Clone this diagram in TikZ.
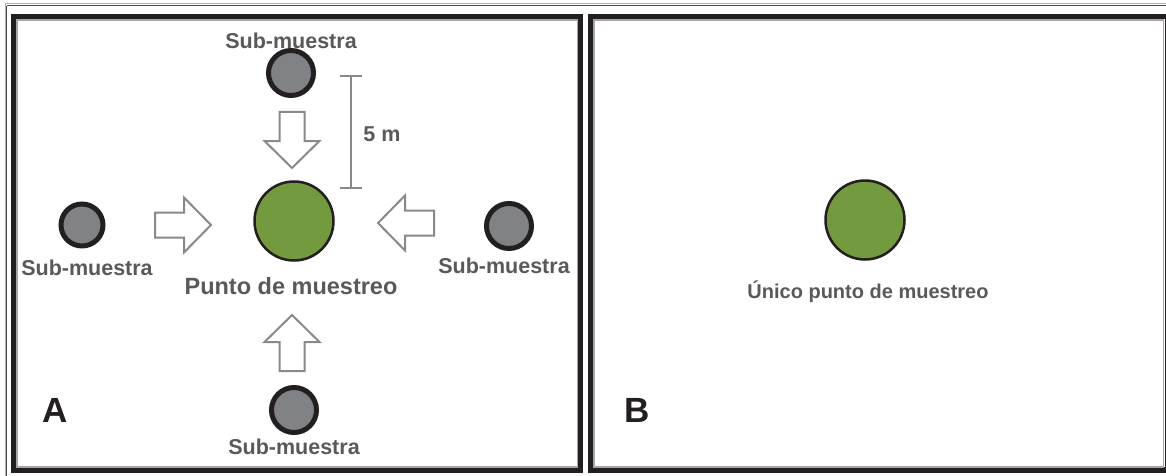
\documentclass[tikz,border=0pt]{standalone}
\usepackage{fontspec}
\setmainfont{Liberation Sans}
\definecolor{txtgray}{HTML}{58595B}
\definecolor{subgray}{HTML}{808285}
\definecolor{ptgreen}{HTML}{739A3E}
\definecolor{framek}{HTML}{231F20}
\definecolor{arrgray}{HTML}{88898B}
\tikzset{
  subcirc/.style={circle, draw=framek, line width=5pt, fill=subgray, minimum size=45pt, inner sep=0},
  greencirc/.style={circle, draw=framek, line width=2.5pt, fill=ptgreen, minimum size=79pt, inner sep=0},
  lbl/.style={text=txtgray, font=\bfseries\fontsize{21.5}{24}\selectfont, inner sep=0},
  biglbl/.style={text=txtgray, font=\bfseries\fontsize{23.5}{27}\selectfont, inner sep=0},
  panellbl/.style={text=framek, font=\bfseries\fontsize{35}{40}\selectfont, inner sep=0},
  panelframe/.style={draw=framek, line width=5.5pt},
  paneledge/.style={draw=gray!70, line width=1.2pt},
  pics/blockarrow/.style={code={
    \draw[arrgray, line width=2pt, fill=white, line join=miter]
      (-28,-12.5) -- (1,-12.5) -- (1,-27.5) -- (28,0) -- (1,27.5) -- (1,12.5) -- (-28,12.5) -- cycle;
  }}
}
\begin{document}
\begin{tikzpicture}[x=1pt,y=-1pt]
\useasboundingbox (0,0) rectangle (1166,476);
% outer frame
\draw[gray!60, line width=1pt] (5,4) -- (1166,4);
\draw[framek!80, line width=1pt] (6.5,5.8) -- (1166,5.8);
\draw[gray!60, line width=1pt] (5,4) -- (5,476);
\draw[framek!80, line width=1pt] (6.5,5.8) -- (6.5,476);
% panel A
\draw[panelframe] (13.7,16.7) rectangle (580.5,470.2);
\draw[paneledge] (17,20) rectangle (577.3,467);
% panel B
\draw[panelframe] (590.7,16.7) rectangle (1168,470.2);
\draw[paneledge] (594,20) rectangle (1163.5,467);

% panel A content
\node[greencirc] (pA) at (294,221) {};
\node[biglbl] (pAl) at (291,286) {Punto de muestreo};

\node[subcirc] (sT) at (291,73) {};
\node[lbl] (sTl) at (291,41) {Sub-muestra};
\node[subcirc, minimum size=42pt] (sL) at (82,225) {};
\node[lbl] (sLl) at (87,268) {Sub-muestra};
\node[subcirc] (sR) at (509,226) {};
\node[lbl] (sRl) at (504,266) {Sub-muestra};
\node[subcirc] (sB) at (294,410) {};
\node[lbl] (sBl) at (294,447) {Sub-muestra};

\pic[rotate=-90] at (292,140) {blockarrow};
\pic[rotate=90] at (292,343) {blockarrow};
\pic at (183,225) {blockarrow};
\pic[rotate=180] at (406,223) {blockarrow};

% scale bar
\coordinate (bT) at (351,76);
\coordinate (bB) at (351,188);
\draw[arrgray, line width=2.5pt] (bT) -- (bB);
\draw[arrgray, line width=2.5pt] ([xshift=-11pt]bT) -- ([xshift=11pt]bT);
\draw[arrgray, line width=2.5pt] ([xshift=-11pt]bB) -- ([xshift=11pt]bB);
\node[lbl] (dist) at (382,134) {5 m};

\node[panellbl] (lA) at (55,410) {A};

% panel B content
\node[greencirc] (pB) at (865,220) {};
\node[biglbl, font=\bfseries\fontsize{20}{24}\selectfont] (pBl) at (868,292) {Único punto de muestreo};
\node[panellbl] (lB) at (637,410) {B};
\end{tikzpicture}
\end{document}
